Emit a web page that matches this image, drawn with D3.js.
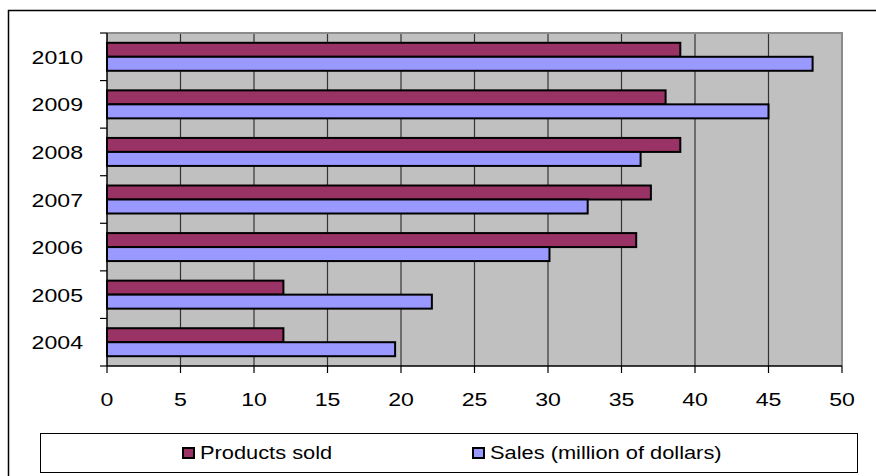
<!DOCTYPE html>
<html>
<head>
<meta charset="utf-8">
<script src="https://cdn.jsdelivr.net/npm/d3@7"></script>
<style>
  body { margin: 0; background: #fff; }
  svg { display: block; font-family: "Liberation Sans", Arial, sans-serif; }
</style>
</head>
<body>
<svg width="876" height="476"></svg>
<script>
// data
const years = ["2004", "2005", "2006", "2007", "2008", "2009", "2010"];
const seriesNames = ["Products sold", "Sales (million of dollars)"];
const productsSold = [12, 12, 36, 37, 39, 38, 39];
const sales = [19.6, 22.1, 30.1, 32.7, 36.3, 45, 48];
const xTicks = [0, 5, 10, 15, 20, 25, 30, 35, 40, 45, 50];
const colors = ["#993366", "#9999ff"];

const svg = d3.select("svg");

// outer frame (cropped: only left and top edges visible)
svg.append("path")
  .attr("d", "M8.5,476 L8.5,10.5 L876,10.5")
  .attr("fill", "none")
  .attr("stroke", "#000")
  .attr("stroke-width", 1.5);

const plot = { left: 107, right: 842, top: 33, bottom: 366 };

const x = d3.scaleLinear([0, 50], [plot.left, plot.right]);
const y0 = d3.scaleBand(years, [plot.bottom, plot.top]).paddingInner(0);
const y1 = d3.scaleBand(seriesNames, [0, y0.bandwidth()]).paddingInner(0).paddingOuter(0.7);

// plot background
svg.append("rect")
  .attr("x", plot.left)
  .attr("y", plot.top)
  .attr("width", plot.right - plot.left)
  .attr("height", plot.bottom - plot.top)
  .attr("fill", "#c0c0c0");

// gridlines
svg.append("g")
  .selectAll("line")
  .data(xTicks.slice(1, -1))
  .join("line")
    .attr("x1", d => x(d))
    .attr("x2", d => x(d))
    .attr("y1", plot.top)
    .attr("y2", plot.bottom)
    .attr("stroke", "#333")
    .attr("stroke-width", 1.2);

// plot border (top/right gray)
svg.append("path")
  .attr("d", `M${plot.left},${plot.top} L${plot.right},${plot.top} L${plot.right},${plot.bottom}`)
  .attr("fill", "none")
  .attr("stroke", "#8c8c8c")
  .attr("stroke-width", 2);

// bars
const rows = years.map((yr, i) => ({ year: yr, values: [productsSold[i], sales[i]] }));
const groups = svg.append("g")
  .selectAll("g")
  .data(rows)
  .join("g")
    .attr("transform", d => `translate(0,${y0(d.year)})`);

groups.selectAll("rect")
  .data(d => d.values.map((v, j) => ({ key: seriesNames[j], value: v, j })))
  .join("rect")
    .attr("x", x(0))
    .attr("y", d => y1(d.key))
    .attr("width", d => x(d.value) - x(0))
    .attr("height", y1.bandwidth())
    .attr("fill", d => colors[d.j])
    .attr("stroke", "#000")
    .attr("stroke-width", 2);

// y axis (ticks at category boundaries)
const yAxis = svg.append("g");
yAxis.append("line")
  .attr("x1", plot.left).attr("x2", plot.left)
  .attr("y1", plot.top).attr("y2", plot.bottom)
  .attr("stroke", "#000").attr("stroke-width", 1.5);
yAxis.selectAll(".tick")
  .data(years.concat(["end"]))
  .join("line")
    .attr("x1", plot.left - 7)
    .attr("x2", plot.left)
    .attr("y1", (d, i) => i < years.length ? y0(d) + y0.bandwidth() : plot.top)
    .attr("y2", (d, i) => i < years.length ? y0(d) + y0.bandwidth() : plot.top)
    .attr("stroke", "#000")
    .attr("stroke-width", 1.2);
// the original text is stretched horizontally
yAxis.selectAll("text")
  .data(years)
  .join("text")
    .attr("transform", d => `translate(83,${y0(d) + y0.bandwidth() / 2 + 7}) scale(1.25,1)`)
    .attr("text-anchor", "end")
    .attr("font-size", 18.5)
    .attr("fill", "#000")
    .text(d => d);

// x axis
const xAxis = svg.append("g");
xAxis.append("line")
  .attr("x1", plot.left).attr("x2", plot.right)
  .attr("y1", plot.bottom).attr("y2", plot.bottom)
  .attr("stroke", "#000").attr("stroke-width", 1.5);
xAxis.selectAll(".tk")
  .data(xTicks)
  .join("line")
    .attr("x1", d => x(d)).attr("x2", d => x(d))
    .attr("y1", plot.bottom).attr("y2", plot.bottom + 7)
    .attr("stroke", "#000").attr("stroke-width", 1.2);
xAxis.selectAll("text")
  .data(xTicks)
  .join("text")
    .attr("transform", d => `translate(${x(d)},406) scale(1.25,1)`)
    .attr("text-anchor", "middle")
    .attr("font-size", 18.5)
    .attr("fill", "#000")
    .text(d => d);

// legend
const legend = svg.append("g");
legend.append("rect")
  .attr("x", 40.5).attr("y", 433.5)
  .attr("width", 817).attr("height", 39)
  .attr("fill", "#fff")
  .attr("stroke", "#000")
  .attr("stroke-width", 1);

const legendX = [183, 473];
seriesNames.forEach((name, i) => {
  legend.append("rect")
    .attr("x", legendX[i])
    .attr("y", 448)
    .attr("width", 11)
    .attr("height", 10)
    .attr("fill", colors[i])
    .attr("stroke", "#000")
    .attr("stroke-width", 2);
  legend.append("text")
    .attr("transform", `translate(${legendX[i] + 17},459) scale(1.18,1)`)
    .attr("font-size", 18.5)
    .attr("fill", "#000")
    .text(name);
});
</script>
</body>
</html>
